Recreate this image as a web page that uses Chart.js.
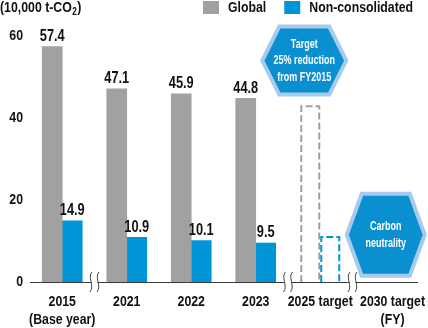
<!DOCTYPE html>
<html>
<head>
<meta charset="utf-8">
<script src="https://cdn.jsdelivr.net/npm/chart.js@4"></script>
<style>
  html, body { margin: 0; padding: 0; background: #fff; }
  canvas { display: block; }
</style>
</head>
<body>
<canvas id="c" width="428" height="328"></canvas>
<script>
// ---- data ----
const categories = [['2015', '(Base year)'], '2021', '2022', '2023', '2025 target', ['2030 target', '(FY)']];
const globalValues = [57.4, 47.1, 45.9, 44.8, 43.1, null];
const nonConsolidatedValues = [14.9, 10.9, 10.1, 9.5, 11.2, null];
const targetIndex = 4;          // 2025 target drawn as dashed outline
const breakAfter = [0, 3, 4];   // axis break marks between category i and i+1
const yTickValues = [0, 20, 40, 60];
const seriesNames = ['Global', 'Non-consolidated'];
const unitLabel = ['(10,000 t-CO', '2', ')'];
const targetNote = ['Target', '25% reduction', 'from FY2015'];
const neutralityNote = ['Carbon', 'neutrality'];

const FONT = "'Liberation Sans', Arial, sans-serif";
const NARROW = 0.82;
const GRAY = '#a1a1a1';
const BLUE = '#0095d6';
const HEX_FILL = '#0a8fd1';
const HEX_EDGE = '#a7cbea';
const TEXT = '#111111';

Chart.defaults.font.family = FONT;
Chart.defaults.font.weight = 'bold';
Chart.defaults.color = TEXT;

// condensed text helper (horizontal squeeze emulates a narrow face)
function measure(ctx, s, size, sx) {
  ctx.save();
  ctx.font = 'bold ' + size + 'px ' + FONT;
  const w = ctx.measureText(s).width * (sx || NARROW);
  ctx.restore();
  return w;
}
function txt(ctx, s, x, y, size, align, color, sx) {
  ctx.save();
  ctx.font = 'bold ' + size + 'px ' + FONT;
  ctx.fillStyle = color || TEXT;
  ctx.textAlign = align || 'center';
  ctx.textBaseline = 'middle';
  ctx.translate(x, y);
  ctx.scale(sx || NARROW, 1);
  ctx.fillText(s, 0, 0);
  const w = ctx.measureText(s).width * (sx || NARROW);
  ctx.restore();
  return w;
}

function hexagon(ctx, cx, cy, w, h, t) {
  ctx.beginPath();
  ctx.moveTo(cx - w / 2, cy);
  ctx.lineTo(cx - t / 2, cy - h / 2);
  ctx.lineTo(cx + t / 2, cy - h / 2);
  ctx.lineTo(cx + w / 2, cy);
  ctx.lineTo(cx + t / 2, cy + h / 2);
  ctx.lineTo(cx - t / 2, cy + h / 2);
  ctx.closePath();
}

function drawHex(ctx, cx, cy, w, h, t, lines, lineH) {
  ctx.save();
  hexagon(ctx, cx, cy, w - 4, h - 4, t - 2);
  ctx.fillStyle = HEX_FILL;
  ctx.fill();
  ctx.lineWidth = 4;
  ctx.strokeStyle = HEX_EDGE;
  ctx.stroke();
  ctx.restore();
  const y0 = cy - (lines.length - 1) * lineH / 2;
  lines.forEach((ln, i) => txt(ctx, ln, cx, y0 + i * lineH, 12.5, 'center', '#ffffff', 0.72));
}

const decorations = {
  id: 'decorations',
  afterDatasetsDraw(chart) {
    const { ctx, chartArea } = chart;
    const xs = chart.scales.x, ys = chart.scales.y;

    // bars: labels + dashed target outlines
    chart.data.datasets.forEach((ds, di) => {
      const meta = chart.getDatasetMeta(di);
      meta.data.forEach((el, i) => {
        const v = ds.data[i];
        if (v == null) return;
        if (i === targetIndex) {
          ctx.save();
          const l = el.x - el.width / 2 + 1, r = el.x + el.width / 2 - 1;
          ctx.beginPath();
          ctx.moveTo(l, el.base);
          ctx.lineTo(l, el.y + 1);
          ctx.lineTo(r, el.y + 1);
          ctx.lineTo(r, el.base);
          ctx.setLineDash([7, 3]);
          ctx.lineWidth = 2;
          ctx.strokeStyle = ds.outlineColor;
          ctx.stroke();
          ctx.restore();
        } else {
          txt(ctx, v.toFixed(1), el.x, el.y - 10, 16, 'center', TEXT, 0.8);
        }
      });
    });

    // axis break marks
    breakAfter.forEach(i => {
      const x = (xs.getPixelForValue(i) + xs.getPixelForValue(i + 1)) / 2;
      const y = chartArea.bottom;
      ctx.save();
      ctx.fillStyle = '#ffffff';
      ctx.fillRect(x - 3, y - 2, 6, 4);
      ctx.strokeStyle = '#444';
      ctx.lineWidth = 1;
      [-3.5, 3.5].forEach(dx => {
        const cx = x + dx;
        ctx.beginPath();
        ctx.moveTo(cx + 1, y - 10);
        ctx.bezierCurveTo(cx - 4, y - 5, cx + 4, y + 4, cx - 1, y + 10);
        ctx.stroke();
      });
      ctx.restore();
    });

    // hexagon notes
    drawHex(ctx, xs.getPixelForValue(targetIndex) - 16, ys.getPixelForValue(54), 88, 72, 52, targetNote, 16.5);
    drawHex(ctx, xs.getPixelForValue(5) + 1, ys.getPixelForValue(11.5), 82, 86, 50, neutralityNote, 17);
  },
  afterDraw(chart) {
    const { ctx, chartArea, width } = chart;
    const xs = chart.scales.x, ys = chart.scales.y;

    // y tick labels
    yTickValues.forEach(v => txt(ctx, String(v), xs.left - 7, ys.getPixelForValue(v), 15, 'right'));

    // x tick labels (last one end-aligned to the canvas edge)
    const n = chart.data.labels.length;
    chart.data.labels.forEach((lab, i) => {
      const lines = Array.isArray(lab) ? lab : [lab];
      const maxW = Math.max(...lines.map(l => measure(ctx, l, 15)));
      let x = xs.getPixelForValue(i);
      if (i === n - 1) x = width - 3 - maxW / 2;
      lines.forEach((ln, k) => txt(ctx, ln, x, chartArea.bottom + 19.5 + k * 18, 15, 'center'));
    });

    // legend
    let lx = 203;
    chart.data.datasets.forEach(ds => {
      ctx.fillStyle = ds.outlineColor;
      ctx.fillRect(lx, 1, 16, 13);
      const w = txt(ctx, ds.label, lx + 25, 8, 15, 'left');
      lx += 25 + w + 18;
    });

    // unit label
    let ux = txt(ctx, unitLabel[0], 0, 8, 15, 'left');
    ux += txt(ctx, unitLabel[1], ux + 0.5, 12, 10, 'left') + 1;
    txt(ctx, unitLabel[2], ux, 8, 15, 'left');
  }
};

new Chart(document.getElementById('c'), {
  type: 'bar',
  data: {
    labels: categories,
    datasets: [
      {
        label: seriesNames[0],
        data: globalValues,
        outlineColor: GRAY,
        backgroundColor: c => c.dataIndex === targetIndex ? 'rgba(0,0,0,0)' : GRAY,
        barThickness: 20,
        categoryPercentage: 0.773,
        barPercentage: 1
      },
      {
        label: seriesNames[1],
        data: nonConsolidatedValues,
        outlineColor: BLUE,
        backgroundColor: c => c.dataIndex === targetIndex ? 'rgba(0,0,0,0)' : BLUE,
        barThickness: 20,
        categoryPercentage: 0.773,
        barPercentage: 1
      }
    ]
  },
  options: {
    responsive: false,
    animation: false,
    layout: { padding: { top: 36, right: 11, left: 0, bottom: 0 } },
    plugins: { legend: { display: false }, tooltip: { enabled: false }, title: { display: false } },
    scales: {
      x: {
        grid: { display: false, drawTicks: false },
        border: { display: true, color: '#3a3a3a', width: 1 },
        ticks: { display: false },
        afterFit(s) { s.height = 46; s.paddingLeft = 0; s.paddingRight = 0; }
      },
      y: {
        min: 0, max: 60,
        grid: { display: false, drawTicks: false },
        border: { display: false },
        afterBuildTicks(s) { s.ticks = yTickValues.map(v => ({ value: v })); },
        ticks: { display: false },
        afterFit(s) { s.width = 30; s.paddingTop = 0; s.paddingBottom = 0; }
      }
    }
  },
  plugins: [decorations]
});
</script>
</body>
</html>
